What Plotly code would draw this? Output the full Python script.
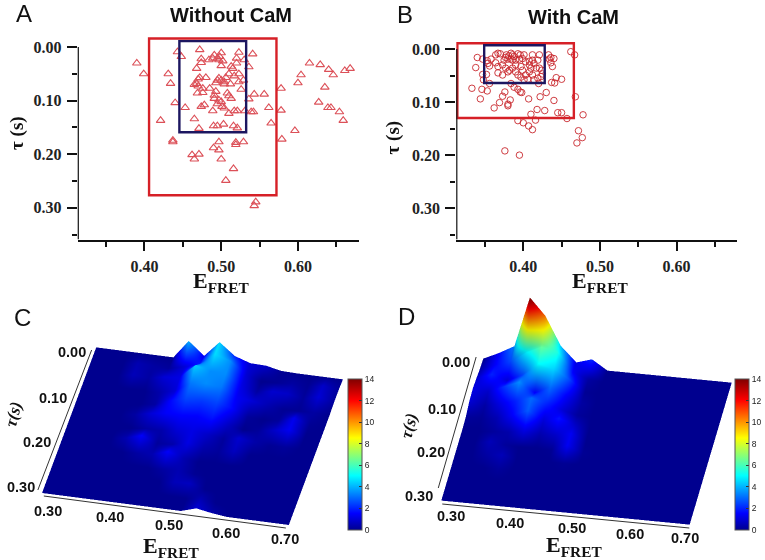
import plotly.graph_objects as go

W, H = 765, 560

# Panel A: Without CaM
a_x = [0.390,0.399,0.431,0.434,0.421,0.440,0.443,0.448,0.437,0.462,0.465,0.471,0.453,0.465,0.471,0.472,0.474,0.474,0.468,0.472,
       0.470,0.468,0.465,0.470,0.480,0.469,0.476,0.476,0.474,0.478,0.485,0.484,0.489,0.491,0.495,0.498,0.500,0.497,0.502,0.500,
       0.513,0.515,0.520,0.523,0.520,0.530,0.536,0.541,0.497,0.493,0.495,0.500,0.504,0.510,0.517,0.506,0.523,0.523,0.529,0.512,
       0.504,0.526,0.493,0.508,0.510,0.513,0.491,0.491,0.497,0.500,0.495,0.501,0.504,0.489,0.510,0.517,0.521,0.531,0.536,0.543,
       0.556,0.539,0.542,0.562,0.578,0.578,0.565,0.579,0.490,0.495,0.503,0.516,0.521,0.497,0.490,0.497,0.500,0.519,0.519,0.529,
       0.516,0.506,0.545,0.543,0.596,0.600,0.604,0.615,0.629,0.640,0.646,0.661,0.668,0.635,0.627,0.639,0.643,0.654,0.659,0.437]
a_t = [0.030,0.050,0.050,0.068,0.137,0.104,0.009,0.018,0.174,0.201,0.209,0.200,0.113,0.134,0.152,0.005,0.022,0.029,0.040,0.057,
       0.060,0.068,0.070,0.073,0.057,0.086,0.077,0.085,0.111,0.108,0.077,0.024,0.021,0.015,0.021,0.018,0.011,0.024,0.026,0.035,
       0.036,0.040,0.030,0.010,0.021,0.024,0.037,0.013,0.058,0.067,0.062,0.062,0.065,0.050,0.054,0.057,0.050,0.065,0.062,0.069,
       0.069,0.079,0.083,0.086,0.091,0.096,0.090,0.096,0.099,0.102,0.106,0.111,0.114,0.119,0.124,0.119,0.119,0.119,0.097,0.088,
       0.088,0.121,0.121,0.113,0.077,0.118,0.142,0.172,0.147,0.147,0.144,0.147,0.151,0.177,0.188,0.192,0.209,0.178,0.182,0.177,
       0.227,0.249,0.289,0.296,0.156,0.067,0.052,0.030,0.033,0.042,0.052,0.044,0.040,0.075,0.103,0.113,0.113,0.121,0.137,0.177]

# Panel B: With CaM
b_x = [0.333,0.344,0.338,0.340,0.347,0.346,0.353,0.356,0.348,0.347,0.352,0.353,0.354,0.356,0.358,0.364,0.367,0.370,0.364,0.367,
       0.367,0.373,0.380,0.373,0.375,0.377,0.378,0.381,0.384,0.386,0.388,0.393,0.396,0.384,0.380,0.386,0.390,0.395,0.399,0.401,
       0.412,0.421,0.433,0.436,0.440,0.434,0.436,0.438,0.403,0.408,0.412,0.414,0.419,0.408,0.410,0.417,0.421,0.424,0.425,0.423,
       0.419,0.414,0.412,0.408,0.403,0.406,0.401,0.397,0.393,0.390,0.386,0.382,0.377,0.390,0.397,0.399,0.384,0.388,0.393,0.396,
       0.398,0.373,0.376,0.383,0.369,0.362,0.380,0.380,0.407,0.420,0.422,0.430,0.440,0.437,0.441,0.443,0.450,0.468,0.462,0.467,
       0.428,0.418,0.410,0.445,0.450,0.457,0.478,0.416,0.393,0.400,0.407,0.412,0.472,0.477,0.470,0.376,0.395]
b_t = [0.074,0.094,0.035,0.016,0.019,0.076,0.079,0.065,0.058,0.048,0.048,0.022,0.027,0.032,0.019,0.011,0.008,0.009,0.026,0.033,
       0.045,0.049,0.043,0.030,0.021,0.016,0.011,0.013,0.008,0.011,0.014,0.009,0.011,0.019,0.019,0.021,0.021,0.019,0.018,0.011,
       0.011,0.011,0.011,0.016,0.018,0.019,0.026,0.033,0.024,0.023,0.021,0.027,0.021,0.030,0.036,0.036,0.036,0.040,0.047,0.052,
       0.055,0.058,0.049,0.043,0.049,0.057,0.058,0.053,0.049,0.043,0.036,0.040,0.036,0.030,0.033,0.040,0.065,0.072,0.076,0.081,
       0.082,0.089,0.081,0.096,0.101,0.111,0.104,0.107,0.094,0.065,0.090,0.082,0.097,0.063,0.064,0.054,0.057,0.090,0.005,0.011,
       0.116,0.114,0.123,0.120,0.120,0.131,0.124,0.134,0.135,0.139,0.145,0.152,0.154,0.167,0.177,0.192,0.200]

# Surface grids
grid_x = [0.300,0.325,0.350,0.375,0.400,0.425,0.450,0.475,0.500,0.525,0.550,0.575,0.600,0.625,0.650,0.675,0.700]
grid_t = [0.000,0.025,0.050,0.075,0.100,0.125,0.150,0.175,0.200,0.225,0.250,0.275,0.300]
z_c = [
 [0,0,0,0,0,0,4.0,1.2,4.6,2.0,0.9,0.8,0.1,0,0,0,0],
 [0,0,0,0.5,0.3,0.2,1.0,2.0,4.6,3.5,1.0,0,0.1,0.3,0.1,0.8,0.2],
 [0,0,0,0.6,0.3,1.0,1.2,4.4,3.5,3.5,1.2,0.3,0.9,0.8,0.2,1.0,0.2],
 [0,0,0,0,0,0.4,1.0,3.2,3.5,3.2,1.4,1.0,0.5,0.1,0.1,0.3,0],
 [0,0,0,0,0,0.3,1.6,2.5,2.3,2.5,1.6,0.2,0,0.2,1.3,0.1,0],
 [0,0,0,0,0.3,1.0,1.5,1.6,1.5,1.8,0.8,0,0.2,0.8,1.4,0,0],
 [0,0,0,0,0,0.3,0.4,1.0,1.2,0.8,0.2,0.9,0.4,0.1,0.2,0,0],
 [0,0,0,0,0.5,1.5,0.2,0.4,1.2,0.4,0.2,0.7,0,0,0,0,0],
 [0,0,0,0,0,0.3,0.5,1.5,0.5,0,0,0,0,0,0,0,0],
 [0,0,0,0,0,0,0,0.3,0.5,0.1,0,0,0,0,0,0,0],
 [0,0,0,0,0,0,0,0,0.6,0.7,0,0,0,0,0,0,0],
 [0,0,0,0,0,0,0,0,0,0,0.5,0,0,0,0,0,0],
 [0,0,0,0,0,0,0,0,0,0,1.0,0.4,0,0,0,0,0],
]
z_d = [
 [0,1.5,3.3,14,10.4,4.3,1.1,2.1,0,0,0,0,0,0,0,0,0],
 [0.3,1.5,2.5,5.0,6.5,5.5,1.5,0.3,0,0,0,0,0,0,0,0,0],
 [0.8,2.0,1.0,2.5,5.0,4.5,2.5,0.1,0,0,0,0,0,0,0,0,0],
 [1.2,0.8,2.2,3.5,1.5,3.0,1.5,0.3,0,0,0,0,0,0,0,0,0],
 [1.0,0.3,1.2,2.0,3.0,2.0,1.0,0.2,0,0,0,0,0,0,0,0,0],
 [0.2,0.1,0.5,1.5,2.8,1.0,1.8,0.8,0,0,0,0,0,0,0,0,0],
 [0,0,0.2,0.4,1.2,0.4,0.8,1.4,0,0,0,0,0,0,0,0,0],
 [0,0,0.6,0.2,0,0,0.1,1.4,0.1,0,0,0,0,0,0,0,0],
 [0,0,0.3,0.6,0,0,0,0.1,0,0,0,0,0,0,0,0,0],
 [0,0,0,0.2,0,0,0,0,0,0,0,0,0,0,0,0,0],
 [0,0,0,0,0,0,0,0,0,0,0,0,0,0,0,0,0],
 [0,0,0,0,0,0,0,0,0,0,0,0,0,0,0,0,0],
 [0,0,0,0,0,0,0,0,0,0,0,0,0,0,0,0,0],
]
tick_x_labels = ["0.30","0.40","0.50","0.60","0.70"]
tick_t_labels = ["0.00","0.10","0.20","0.30"]
rect_a_red = (0.406, 0.572, -0.016, 0.2766)
rect_a_blue = (0.4455, 0.5325, -0.011, 0.159)
rect_b_red = (0.314, 0.466, -0.011, 0.130)
rect_b_blue = (0.349, 0.428, -0.007, 0.064)

JET = [[0,"#00008f"],[0.11,"#0000ff"],[0.36,"#00ffff"],[0.61,"#ffff00"],[0.86,"#ff0000"],[1,"#800000"]]
RED = "#d62027"; NAVY = "#1c1660"
SERIF = "Liberation Serif"; SANS = "Liberation Sans"

def px(x): return x / W
def py(y): return 1 - y / H

fig = go.Figure()
fig.add_trace(go.Scatter(x=a_x, y=a_t, mode="markers", xaxis="x", yaxis="y", showlegend=False,
    marker=dict(symbol="triangle-up-open", size=7.5, color="#dc5058", line=dict(width=1.1, color="#dc5058"))))
fig.add_trace(go.Scatter(x=b_x, y=b_t, mode="markers", xaxis="x2", yaxis="y2", showlegend=False,
    marker=dict(symbol="circle-open", size=6.5, color="#c8282e", line=dict(width=0.9, color="#c8282e"))))

def surf(z, scene, cx):
    return go.Surface(x=grid_x, y=grid_t, z=z, scene=scene, cmin=0, cmax=14, colorscale=JET,
        lighting=dict(ambient=0.88, diffuse=0.18, specular=0.0, roughness=1, fresnel=0),
        lightposition=dict(x=80, y=-150, z=200), hoverinfo="skip",
        colorbar=dict(x=px(cx), xanchor="left", xpad=0, y=py(530), yanchor="bottom", ypad=0,
                      lenmode="pixels", len=151, thickness=14, thicknessmode="pixels",
                      tick0=0, dtick=2, ticks="inside", ticklen=3, tickcolor="#333", tickwidth=1,
                      tickfont=dict(family=SANS, size=8.5, color="#222"),
                      outlinecolor="#555", outlinewidth=1))
fig.add_trace(surf(z_c, "scene", 349.5))
fig.add_trace(surf(z_d, "scene2", 737.5))

def axis2d(left, right, rng, **kw):
    return dict(domain=[px(left), px(right)], range=rng, tickvals=[0.40,0.50,0.60], ticktext=["0.40","0.50","0.60"],
        ticks="outside", ticklen=9, tickwidth=2, tickcolor="#111", showgrid=False, zeroline=False,
        showline=True, linecolor="#111", linewidth=2.4, ticklabelstandoff=2,
        tickfont=dict(family=SERIF, size=16, color="#222", weight=700),
        minor=dict(tickvals=[0.35,0.45,0.55,0.65], ticks="outside", ticklen=5, tickwidth=2, tickcolor="#111", showgrid=False), **kw)

def axis2t(top, bottom, rng, anchor):
    return dict(domain=[py(bottom), py(top)], range=rng, tickvals=[0.0,0.1,0.2,0.3], ticktext=tick_t_labels,
        ticks="outside", ticklen=10, tickwidth=2, tickcolor="#111", showgrid=False, zeroline=False,
        showline=False, ticklabelstandoff=2, anchor=anchor,
        tickfont=dict(family=SERIF, size=16, color="#222", weight=700),
        minor=dict(tickvals=[0.05,0.15,0.25,0.35], ticks="outside", ticklen=5, tickwidth=2, tickcolor="#111", showgrid=False))

def scene3d(x0, x1, y0, y1, eye, s):
    hidden = dict(visible=False)
    return dict(domain=dict(x=[px(x0), px(x1)], y=[py(y1), py(y0)]),
        xaxis=dict(range=[0.3,0.7], **hidden), yaxis=dict(range=[0.3,0.0], **hidden), zaxis=dict(range=[-0.1,14], **hidden),
        aspectmode="manual", aspectratio=dict(x=s, y=s, z=0.32*s),
        camera=dict(projection=dict(type="orthographic"), eye=eye, up=dict(x=0,y=0,z=1), center=dict(x=0,y=0,z=0)),
        bgcolor="rgba(0,0,0,0)")

N = 1.25
fig.update_layout(
    width=W, height=H, margin=dict(l=0,r=0,t=0,b=0), paper_bgcolor="white", plot_bgcolor="white", showlegend=False,
    xaxis=axis2d(78, 360, [0.313, 0.679], anchor="y"),
    yaxis=axis2t(36.3, 239.5, [0.359, -0.02], "x"),
    xaxis2=axis2d(458, 740, [0.3125, 0.679], anchor="y2"),
    yaxis2=axis2t(38.4, 239.5, [0.359, -0.02], "x2"),
    scene=scene3d(17.5, 369.5, 253.5, 553.5, dict(x=0.173*N, y=-0.788*N, z=0.59*N), 1.685),
    scene2=scene3d(414, 764, 258.5, 558.5, dict(x=0.137*N, y=-0.809*N, z=0.572*N), 1.68),
)

def rect(r, xref, yref, color, w):
    fig.add_shape(type="rect", x0=r[0], x1=r[1], y0=r[2], y1=r[3], xref=xref, yref=yref, line=dict(color=color, width=w))
rect(rect_a_red, "x", "y", RED, 2.4); rect(rect_a_blue, "x", "y", NAVY, 2.4)
rect(rect_b_red, "x2", "y2", RED, 2.4); rect(rect_b_blue, "x2", "y2", NAVY, 2.4)
fig.add_shape(type="line", x0=0.313, x1=0.313, y0=0, y1=0.359, xref="x", yref="y", line=dict(color="#111", width=2.4))
fig.add_shape(type="line", x0=0.3125, x1=0.3125, y0=0, y1=0.359, xref="x2", yref="y2", line=dict(color="#111", width=2.4))

def txt(x, y, s, size, family=SANS, bold=False, color="#111", angle=0, italic=False):
    fig.add_annotation(x=px(x), y=py(y), xref="paper", yref="paper", text=s, showarrow=False, textangle=angle,
        xanchor="center", yanchor="middle",
        font=dict(family=family, size=size, color=color, weight=700 if bold else 400, style="italic" if italic else "normal"))

for l, x, y in [("A",24,13),("B",407,14),("C",23,317),("D",408,316)]:
    txt(x, y, l, 24)
txt(232, 15, "Without CaM", 20, bold=True); txt(576, 17, "With CaM", 20, bold=True)
for cx in (222, 602):
    txt(cx, 282, 'E<sub>FRET</sub>', 22, family=SERIF, bold=True)
txt(17, 133, "τ (s)", 19, family=SERIF, bold=True, angle=-90)
txt(395, 137, "τ (s)", 19, family=SERIF, bold=True, angle=-90)

# 3D panel labels
c_t_pos = [(72,352),(53,398),(37,442),(21,487)]
c_x_pos = [(48,511),(110,517),(170,525),(227,533),(286,539)]
d_t_pos = [(458,362),(444,409),(433,452),(421,496)]
d_x_pos = [(453,516),(512,523),(574,528),(632,534),(688,538)]
for pos, labs in [(c_t_pos,tick_t_labels),(c_x_pos,tick_x_labels),(d_t_pos,tick_t_labels),(d_x_pos,tick_x_labels)]:
    for (x,y),l in zip(pos,labs):
        txt(x,y,l,14.5,bold=True)
txt(13, 414, "τ(s)", 17, family=SERIF, bold=True, italic=True, angle=-75)
txt(410, 426, "τ(s)", 17, family=SERIF, bold=True, italic=True, angle=-75)
txt(172, 547, 'E<sub>FRET</sub>', 22, family=SERIF, bold=True)
txt(576, 546, 'E<sub>FRET</sub>', 22, family=SERIF, bold=True)

# 3D axis rules
for (x0,y0,x1,y1) in [(92,350,38,490),(44,496,287,528),(478,357,440,488),(444,504,692,528)]:
    fig.add_shape(type="line", xref="paper", yref="paper", x0=px(x0), y0=py(y0), x1=px(x1), y1=py(y1), line=dict(color="#333", width=1))

fig.write_html("out.html", config={"displayModeBar": False}, post_script="document.body.style.margin='0';")
